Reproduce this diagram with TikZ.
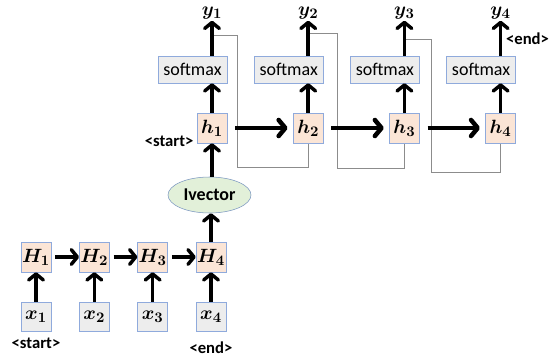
\documentclass[tikz,border=0pt]{standalone}
\usepackage{fontspec}
\setmainfont{Carlito}
\usetikzlibrary{arrows.meta,shapes.geometric}
\definecolor{boxline}{HTML}{8FAADC}
\definecolor{peach}{HTML}{FBE5D6}
\definecolor{lgray}{HTML}{EDEDED}
\definecolor{lgreen}{HTML}{E2F0D9}
\definecolor{ellline}{HTML}{7A96C0}
\definecolor{fbline}{HTML}{8C8C8C}
\begin{document}
\begin{tikzpicture}[x=0.75pt, y=-0.75pt,
	hid/.style={draw=boxline, fill=peach, minimum width=22.5pt, minimum height=22.5pt, inner sep=0pt, font=\fontsize{15}{17}\selectfont\boldmath},
	inp/.style={hid, fill=lgray, minimum height=21.75pt},
	smax/.style={draw=boxline, fill=lgray, minimum width=51.75pt, minimum height=20.25pt, inner sep=0pt, font=\fontsize{13.5}{15}\selectfont},
	ivec/.style={ellipse, draw=ellline, fill=lgreen, minimum width=62.25pt, minimum height=27pt, inner sep=0pt, font=\fontsize{13.5}{15}\selectfont\bfseries},
	outlbl/.style={inner sep=1pt, font=\fontsize{15}{17}\selectfont\boldmath},
	tag/.style={inner sep=1pt, font=\fontsize{12.5}{14}\selectfont\bfseries},
	arr/.style={line width=2.6pt, -{Straight Barb[length=4.5pt, width=11pt, round]}},
	bigarr/.style={line width=3.4pt, -{Straight Barb[length=5pt, width=12pt, round]}, shorten <=6pt, shorten >=4pt},
	fb/.style={draw=fbline, line width=0.6pt}
]

\useasboundingbox (0,0) rectangle (559,356);

\foreach \i in {1,...,4} {
	\node[inp] (x\i) at ({36+58.33*(\i-1)},316.5) {$x_{\i}$};
	\node[hid] (H\i) at ({36+58.33*(\i-1)},257) {$H_{\i}$};
	\draw[arr] (x\i) -- (H\i);
}
\foreach \i/\j in {1/2, 2/3, 3/4} { \draw[arr, shorten <=3pt] (H\i) -- (H\j); }

\node[ivec] (iv) at (209.5,195) {Ivector};

\foreach \i/\j/\yt/\xr/\yb in {1/2/35/237/167, 2/3/33/337/168, 3/4/39/431/172} {
	\coordinate (t\i) at ({212+96.2*(\i-1)},\yt);
	\coordinate (c\i) at (\xr,\yb);
	\draw[fb] (t\i) -| (c\i) -| ({212+96.2*(\j-1)},143);
}

\foreach \i in {1,...,4} {
	\node[hid] (h\i) at ({212+96.2*(\i-1)},128) {$h_{\i}$};
	\node[smax, anchor=east] (s\i) at (h\i.east |- 0,69.5) {softmax};
	\node[outlbl] (y\i) at ({212+96.2*(\i-1)},13) {$y_{\i}$};
	\draw[arr] (h\i) -- (h\i |- s\i.south);
	\draw[arr] (s\i.north -| h\i) -- (y\i);
}
\foreach \i/\j in {1/2, 2/3, 3/4} { \draw[bigarr] (h\i) -- (h\j); }

\draw[arr] (H4) -- (H4 |- iv.south);
\draw[arr] (iv.north -| h1) -- (h1);

\node[tag, anchor=east] (st1) at (195,141) {<start>};
\node[tag] (en1) at (527.5,39) {<end>};
\node[tag] (st0) at (36,343) {<start>};
\node[tag] (en0) at (211,348) {<end>};

\end{tikzpicture}
\end{document}
